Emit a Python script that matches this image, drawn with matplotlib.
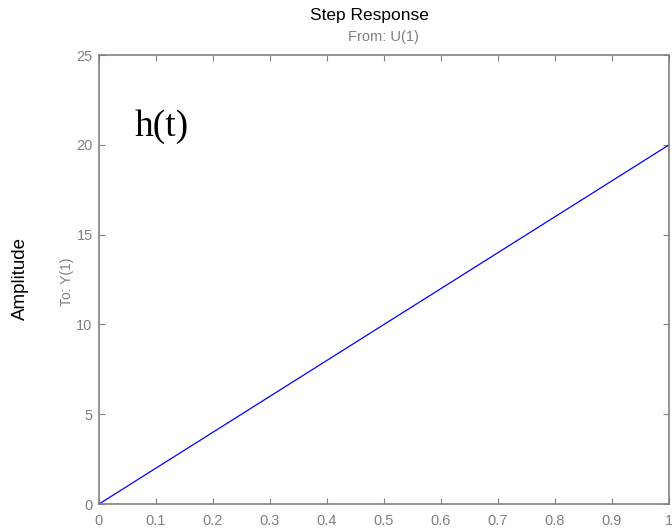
import matplotlib.pyplot as plt

# step response: h(t) = 20 t
t = [0.0, 0.1, 0.2, 0.3, 0.4, 0.5, 0.6, 0.7, 0.8, 0.9, 1.0]
h = [0.0, 2.0, 4.0, 6.0, 8.0, 10.0, 12.0, 14.0, 16.0, 18.0, 20.0]

xticks = [0, 0.1, 0.2, 0.3, 0.4, 0.5, 0.6, 0.7, 0.8, 0.9, 1]
xlabels = ['0', '0.1', '0.2', '0.3', '0.4', '0.5', '0.6', '0.7', '0.8', '0.9', '1']
yticks = [0, 5, 10, 15, 20, 25]

gray = '#808080'
plt.rcParams['font.family'] = ['Liberation Sans', 'DejaVu Sans']

fig = plt.figure(figsize=(6.72, 5.30), dpi=100)
ax = fig.add_axes([0.1473, 0.049, 0.8482, 0.847])
ax.plot(t, h, color='#0000ff', lw=0.9)

ax.set_xlim(0, 1)
ax.set_ylim(0, 25)
ax.set_xticks(xticks)
ax.set_xticklabels(xlabels)
ax.set_yticks(yticks)
ax.tick_params(direction='in', length=4, width=0.8, colors=gray, labelsize=10.5,
               top=True, right=True)
ax.tick_params(axis='x', pad=7)
ax.tick_params(axis='y', pad=4.5)
for s in ax.spines.values():
    s.set_color(gray)
    s.set_linewidth(1.2)

ax.text(0.062, 0.82, 'h(t)', transform=ax.transAxes, fontsize=27,
        family='Liberation Serif', color='black')

fig.text(0.550, 0.970, 'Step Response', ha='center', va='center', fontsize=12.5)
fig.text(0.571, 0.931, 'From: U(1)', ha='center', va='center', fontsize=10.5, color=gray)
fig.text(0.030, 0.474, 'Amplitude', ha='center', va='center', rotation=90, fontsize=13.5)
fig.text(0.099, 0.468, 'To: Y(1)', ha='center', va='center', rotation=90,
         fontsize=10, color=gray)

fig.savefig('out.png', dpi=100)
